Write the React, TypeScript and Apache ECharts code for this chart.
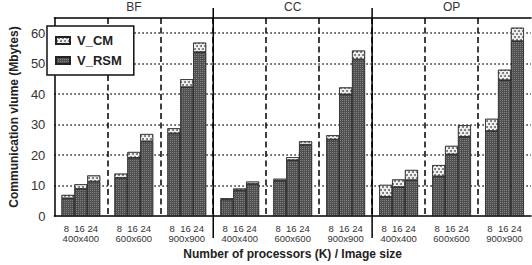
import React, { useEffect, useRef } from "react";
import * as echarts from "echarts";

const groups = ["BF", "CC", "OP"];
const sizes = ["400x400", "600x600", "900x900"];
const procLabel = "8  16 24";
const categories = groups.flatMap((g) => sizes.map((s) => `${g}|${s}`));

const rsm8 = [5.8, 12.5, 27.1, 5.4, 11.6, 25.1, 6.3, 13.0, 27.9];
const cm8 = [1.1, 1.4, 1.7, 0.4, 0.6, 1.4, 3.9, 3.7, 4.0];
const rsm16 = [8.9, 19.1, 42.3, 8.4, 18.3, 39.9, 9.5, 20.2, 44.6];
const cm16 = [1.5, 1.9, 2.6, 0.6, 1.0, 2.3, 2.5, 2.8, 3.4];
const rsm24 = [11.3, 24.5, 53.8, 10.5, 23.4, 51.4, 11.8, 26.0, 57.4];
const cm24 = [2.0, 2.4, 3.1, 0.8, 1.1, 2.9, 3.3, 3.8, 4.4];

const yTicks = [0, 10, 20, 30, 40, 50, 60];

const FONT = "Liberation Sans, Arial, Helvetica, sans-serif";
const RSM_COLOR = "#505050";
const CM_COLOR = "#f2f2f2";

const rsmDecal = {
  symbol: "rect",
  symbolSize: 1,
  color: "rgba(255,255,255,0.28)",
  dashArrayX: [1, 1],
  dashArrayY: [1, 1],
};
const cmDecal = {
  symbol: "circle",
  symbolSize: 1,
  color: "rgba(0,0,0,0.55)",
  dashArrayX: [[1.5, 1.5], [0, 1.5, 1.5, 0]],
  dashArrayY: [1.5, 0.5],
};

export default function App() {
  const ref = useRef<HTMLDivElement>(null);
  useEffect(() => {
    if (!ref.current) return;
    const chart = echarts.init(ref.current, null, { renderer: "svg" });
    const stacks: [string, number[], number[]][] = [
      ["k8", rsm8, cm8],
      ["k16", rsm16, cm16],
      ["k24", rsm24, cm24],
    ];
    const series: any[] = [];
    stacks.forEach(([st, r, c]) => {
      series.push({
        name: "V_RSM",
        type: "bar",
        stack: st,
        data: r,
        barGap: "0%",
        barCategoryGap: "27%",
        itemStyle: { color: RSM_COLOR, borderColor: "#222", borderWidth: 0.6, decal: rsmDecal },
      });
      series.push({
        name: "V_CM",
        type: "bar",
        stack: st,
        data: c,
        barGap: "0%",
        barCategoryGap: "27%",
        itemStyle: { color: CM_COLOR, borderColor: "#222", borderWidth: 0.6, decal: cmDecal },
      });
    });
    const option: any = {
      animation: false,
      backgroundColor: "#fff",
      textStyle: { fontFamily: FONT },
      grid: { left: 40, top: 18, right: 1, bottom: 39, show: false },
      legend: {
        data: ["V_CM", "V_RSM"],
        orient: "vertical",
        left: 47,
        top: 26,
        padding: [8, 12, 8, 8],
        icon: "rect",
        itemWidth: 14,
        itemHeight: 7,
        itemGap: 7,
        backgroundColor: "#fff",
        borderColor: "#111",
        borderWidth: 1.5,
        selectedMode: false,
        textStyle: { fontFamily: FONT, fontSize: 13, fontWeight: "bold", color: "#222", padding: [0, 0, 0, 2] },
      },
      xAxis: [
        {
          type: "category",
          data: categories,
          position: "bottom",
          axisLine: { show: true, lineStyle: { color: "#000", width: 1.5 } },
          axisTick: { show: false },
          axisLabel: {
            interval: 0,
            margin: 7,
            fontSize: 9.5,
            lineHeight: 10,
            color: "#333",
            fontFamily: FONT,
            formatter: (v: string) => `${procLabel}\n${v.split("|")[1]}`,
          },
          splitLine: {
            show: true,
            showMinLine: false,
            showMaxLine: false,
            lineStyle: { color: "#000", width: 1.5, type: [6, 3.5] },
          },
          name: "Number of processors (K) / Image size",
          nameLocation: "middle",
          nameGap: 32,
          nameTextStyle: { fontFamily: FONT, fontSize: 12, fontWeight: "bold", color: "#222" },
        },
        {
          type: "category",
          data: groups,
          position: "top",
          axisLine: { show: true, lineStyle: { color: "#000", width: 1.5 } },
          axisTick: { show: false },
          axisLabel: { margin: 5, fontSize: 12, color: "#333", fontFamily: FONT },
          splitLine: { show: false },
        },
      ],
      yAxis: {
        type: "value",
        min: 0,
        max: 65,
        interval: 10,
        axisLine: { show: true, lineStyle: { color: "#000", width: 1.5 } },
        axisTick: { show: false },
        axisLabel: {
          margin: 9,
          fontSize: 13,
          color: "#333",
          fontFamily: FONT,
          formatter: (v: number) => (yTicks.includes(v) ? String(v) : ""),
        },
        splitLine: {
          show: true,
          showMinLine: false,
          showMaxLine: false,
          lineStyle: { color: "#222", width: 1.5, type: [1.5, 2.5] },
        },
        name: "Communication vlume (Mbytes)",
        nameLocation: "middle",
        nameGap: 28,
        nameTextStyle: { fontFamily: FONT, fontSize: 12, fontWeight: "bold", color: "#222" },
      },
      series,
    };
    chart.setOption(option);

    const y0 = chart.convertToPixel({ yAxisIndex: 0 }, 0) as number;
    const yTop = chart.convertToPixel({ yAxisIndex: 0 }, 65) as number;
    const lines: any[] = [];
    [3, 6].forEach((i) => {
      const a = chart.convertToPixel({ xAxisIndex: 0 }, categories[i - 1]) as number;
      const b = chart.convertToPixel({ xAxisIndex: 0 }, categories[i]) as number;
      const x = (a + b) / 2;
      lines.push({
        type: "line",
        shape: { x1: x, y1: yTop - 10, x2: x, y2: y0 + 22 },
        style: { stroke: "#000", lineWidth: 1.5 },
        z: 1,
      });
    });
    chart.setOption({ graphic: lines });

    return () => chart.dispose();
  }, []);
  return (
    <div
      ref={ref}
      style={{ position: "fixed", left: 0, top: 0, width: 532, height: 265, background: "#fff" }}
    />
  );
}
